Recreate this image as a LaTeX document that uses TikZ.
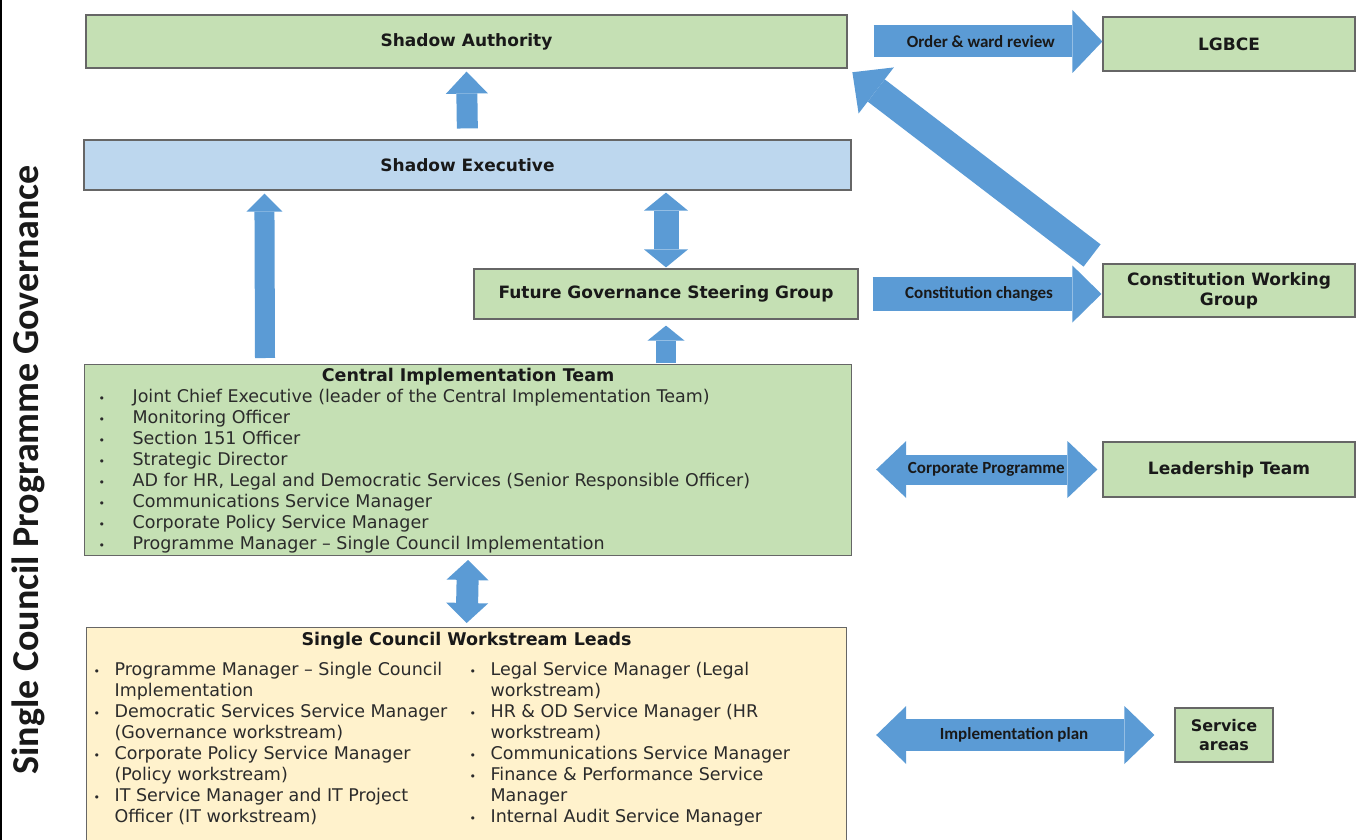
\documentclass[tikz,border=0pt]{standalone}
\usepackage{fontspec}
\setmainfont{DejaVu Sans}
\newfontfamily\calfont{Carlito}
\usepackage{graphicx}
\usepackage{array}
\usepackage{tikz}
\usetikzlibrary{arrows.meta,positioning}
\definecolor{boxgreen}{HTML}{C5E0B4}
\definecolor{boxblue}{HTML}{BDD7EE}
\definecolor{boxyellow}{HTML}{FFF2CC}
\definecolor{arrowblue}{HTML}{5B9BD5}
\definecolor{inktext}{HTML}{2B2B2B}
\newcommand{\itemdot}{{\fontsize{11}{11}\selectfont\textbullet}}

\begin{document}
\begin{tikzpicture}[x=1pt,y=-1pt,
  board/.style={draw=black!60, line width=1.2pt, fill=boxgreen, text=black!90, inner sep=0pt, align=center, font=\fontsize{17}{20}\selectfont\bfseries},
  listboard/.style={board, anchor=north west, align=left, text=inktext, font=\fontsize{17.5}{21}\selectfont},
  flow/.style={draw=arrowblue, line width=#1},
  tipsize/.style 2 args={>={Triangle[width=#1,length=#2,line width=0pt]}},
  flowtext/.style={font=\calfont\bfseries\fontsize{17}{17}\selectfont, text=black!90}]
\useasboundingbox (0,0) rectangle (1357,840);

% frame line and side title
\draw[line width=2pt] (1,0) -- (1,840);
\node[font=\calfont\bfseries\fontsize{38}{38}\selectfont, text=black!90, rotate=90] (title) at (28,470) {Single Council Programme Governance};

% main column
\node[board, minimum width=761pt, minimum height=53pt] (sa) at (466.5,41.5) {Shadow Authority};
\node[board, fill=boxblue, minimum width=767pt, minimum height=50pt] (se) at (467.5,165) {Shadow Executive};
\node[board, minimum width=384pt, minimum height=50pt] (fgsg) at (666,294) {Future Governance Steering Group};
\node[listboard, inner xsep=14pt] (cit) at (84,364) {%
\begin{tabular}{@{}p{34pt}@{}p{705pt}@{}}
\multicolumn{2}{@{}c@{}}{\rule{0pt}{16.5pt}\bfseries\color{black!90}Central Implementation Team}\\
\itemdot & Joint Chief Executive (leader of the Central Implementation Team)\\
\itemdot & Monitoring Officer\\
\itemdot & Section 151 Officer\\
\itemdot & Strategic Director\\
\itemdot & AD for HR, Legal and Democratic Services (Senior Responsible Officer)\\
\itemdot & Communications Service Manager\\
\itemdot & Corporate Policy Service Manager\\
\itemdot & Programme Manager – Single Council Implementation\\
\end{tabular}};
\node[listboard, fill=boxyellow, inner xsep=7pt] (scwl) at (86,627) {%
\begin{tabular}{@{}p{21pt}@{}p{355pt}@{}p{21pt}@{}p{349pt}@{}}
\multicolumn{4}{@{}c@{}}{\rule{0pt}{17.7pt}\bfseries\color{black!90}Single Council Workstream Leads}\\[9pt]
\itemdot & Programme Manager – Single Council & \itemdot & Legal Service Manager (Legal\\
 & Implementation & & workstream)\\
\itemdot & Democratic Services Service Manager & \itemdot & HR \& OD Service Manager (HR\\
 & (Governance workstream) & & workstream)\\
\itemdot & Corporate Policy Service Manager & \itemdot & Communications Service Manager\\
 & (Policy workstream) & \itemdot & Finance \& Performance Service\\
\itemdot & IT Service Manager and IT Project & & Manager\\
 & Officer (IT workstream) & \itemdot & Internal Audit Service Manager\\[20pt]
\end{tabular}};

% right column
\node[board, minimum width=252pt, minimum height=54pt] (lgbce) at (1229,44) {LGBCE};
\node[board, minimum width=252pt, minimum height=53pt] (cwg) at (1229,290.5) {Constitution Working\\Group};
\node[board, minimum width=252pt, minimum height=55pt] (lt) at (1229,469.5) {Leadership Team};
\node[board, minimum width=98pt, minimum height=54pt, font=\fontsize{16}{19}\selectfont\bfseries] (svc) at (1224,735) {Service\\areas};

% vertical block arrows
\draw[flow=21pt, tipsize={42pt}{22pt}, ->, shorten <=11pt, shorten >=3pt] (se.north) -- (sa.south);
\draw[flow=20pt, tipsize={36pt}{18pt}, ->] ([xshift=181pt,yshift=6pt]cit.north west) -- ([xshift=181pt,yshift=-3pt]se.south west);
\draw[flow=25pt, tipsize={44pt}{18pt}, <->, shorten <=2pt, shorten >=1pt] (se.south -| fgsg.north) -- (fgsg.north);
\draw[flow=20pt, tipsize={37pt}{15pt}, ->, shorten <=1pt, shorten >=6pt] (cit.north -| fgsg.south) -- (fgsg.south);
\draw[flow=22pt, tipsize={42pt}{20pt}, <->, shorten <=4pt, shorten >=4pt] (cit.south) -- (scwl.north);

% horizontal block arrows
\draw[flow=32pt, tipsize={63pt}{30pt}, ->, shorten <=26pt] (sa.east) -- (sa.east -| lgbce.west)
  node[flowtext, pos=0.523] (owr) {Order \& ward review};
\draw[flow=34pt, tipsize={57pt}{29pt}, ->, shorten <=14pt, shorten >=1pt] (fgsg.east) -- (fgsg.east -| cwg.west)
  node[flowtext, pos=0.494] (cc) {Constitution changes};
\draw[flow=30pt, tipsize={57pt}{30pt}, <->, shorten <=24pt, shorten >=5pt] (lt.west -| cit.east) -- (lt.west)
  node[flowtext, pos=0.536] (cp) {Corporate Programme};
\draw[flow=32pt, tipsize={58pt}{30pt}, <->, shorten <=29pt, shorten >=20pt] (svc.west -| scwl.east) -- (svc.west)
  node[flowtext, pos=0.51] (ip) {Implementation plan};
\draw[flow=28pt, tipsize={58pt}{30pt}, ->, shorten <=13pt, shorten >=6pt] (cwg.north west) -- (sa.south east);
\end{tikzpicture}
\end{document}
